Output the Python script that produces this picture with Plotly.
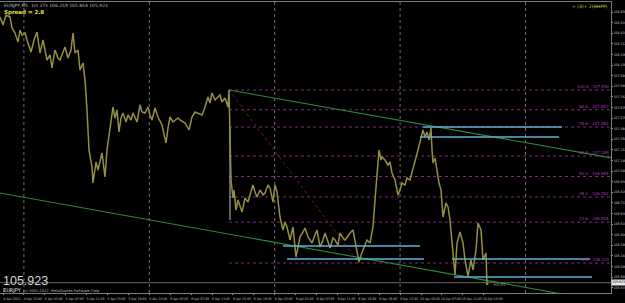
import plotly.graph_objects as go

# ---------------- data ----------------
bars = [0, 3, 6, 10, 12, 15, 18, 20, 22, 25, 27, 31, 34, 37, 40, 43, 45, 47, 50, 52,
        55, 58, 60, 63, 65, 68, 71, 73, 75, 78, 80, 83, 85, 87, 89, 92, 93, 96, 98, 102,
        105, 107, 110, 113, 115, 117, 119, 121, 123, 126, 128, 131, 133, 137, 140, 142, 145, 148, 150, 152,
        155, 158, 162, 164, 166, 168, 170, 173, 175, 178, 180, 185, 189, 192, 195, 197, 202, 205, 208, 210,
        212, 215, 218, 220, 222, 225, 228, 229,
        231, 233, 234, 236, 238, 240, 242, 245, 248, 250, 253, 255, 257, 260, 263, 265, 268, 270, 273, 275,
        277, 280, 283, 285, 287, 290, 293, 296, 298, 300, 303, 305, 308, 312, 315, 317, 320, 323, 325, 328,
        330, 333, 335, 338, 340, 343, 345, 348, 350, 353, 355, 357, 359, 361, 363, 365, 367, 370, 373, 375,
        377, 379, 381, 382, 385, 388, 390, 392, 395, 398, 400, 402, 405, 407, 410, 412, 415, 418, 421, 423,
        425, 427, 429, 431, 432, 433, 435, 437, 439, 441, 442, 443, 446, 448, 450, 451, 453, 455, 457, 460,
        463, 465, 468, 470, 471, 473, 476, 478, 480, 481, 483, 486, 487, 488]
prices = [108.58, 108.50, 108.60, 108.58, 108.47, 108.42, 108.33, 108.45, 108.40, 108.42, 108.35, 108.23, 108.35, 108.43, 108.22, 108.35, 108.25, 108.15, 108.20, 108.07,
          108.25, 108.17, 108.15, 108.23, 108.28, 108.17, 108.25, 108.42, 108.22, 108.25, 108.05, 108.12, 107.95, 107.65, 107.25, 107.08, 106.92, 107.13, 107.05, 107.22,
          106.98, 107.25, 107.48, 107.68, 107.57, 107.65, 107.43, 107.57, 107.62, 107.53, 107.60, 107.55, 107.62, 107.53, 107.70, 107.63, 107.62, 107.68, 107.60, 107.55,
          107.67, 107.58, 107.50, 107.40, 107.32, 107.47, 107.58, 107.53, 107.55, 107.57, 107.55, 107.52, 107.45, 107.58, 107.63, 107.62, 107.60, 107.68, 107.78, 107.72,
          107.82, 107.75, 107.78, 107.80, 107.73, 107.77, 107.68, 107.85,
          106.95, 106.77, 106.85, 106.65, 106.75, 106.70, 106.63, 106.77, 106.73, 106.80, 106.90, 106.83, 106.78, 106.85, 106.80, 106.82, 106.90, 106.87, 106.73, 106.90,
          106.83, 106.58, 106.45, 106.53, 106.48, 106.35, 106.48, 106.18, 106.30, 106.38, 106.43, 106.47, 106.38, 106.32, 106.40, 106.45, 106.28, 106.35, 106.42, 106.33,
          106.27, 106.37, 106.35, 106.30, 106.42, 106.37, 106.35, 106.39, 106.42, 106.45, 106.35, 106.25, 106.13, 106.20, 106.25, 106.30, 106.35, 106.32, 106.48, 106.75,
          107.02, 107.25, 107.15, 107.18, 107.15, 107.10, 107.13, 107.02, 106.95, 106.80, 106.85, 106.92, 106.90, 106.97, 106.95, 107.02, 107.12, 107.25, 107.37, 107.45,
          107.38, 107.43, 107.35, 107.47, 107.25, 107.12, 107.17, 107.05, 106.92, 106.85, 106.75, 106.58, 106.72, 106.68, 106.55, 106.45, 106.22, 106.00, 106.32, 106.43,
          106.32, 106.15, 105.99, 106.10, 106.15, 106.05, 106.25, 106.52, 106.47, 106.45, 106.15, 106.22, 105.90, 105.923]

time_labels = ["4 Apr 2012", "4 Apr 23:45", "5 Apr 03:45", "5 Apr 07:45", "5 Apr 11:45", "5 Apr 15:45",
               "5 Apr 19:45", "5 Apr 23:45", "6 Apr 03:45", "6 Apr 07:45", "6 Apr 11:45", "6 Apr 15:45",
               "6 Apr 19:45", "6 Apr 23:45", "9 Apr 03:45", "9 Apr 07:45", "9 Apr 11:45", "9 Apr 15:45",
               "9 Apr 19:45", "9 Apr 23:45", "10 Apr 03:45", "10 Apr 07:45", "10 Apr 11:45", "10 Apr 15:45"]

current_price = 105.923
fibo_high_bar, fibo_high = 229, 107.85
fibo_low_bar, fibo_low = 359, 106.12
fibo_levels = [0.0, 23.6, 38.2, 50.0, 61.8, 78.6, 88.6, 100.0]

# support / resistance lines: start bar, end bar, price
sr_start = [423, 420, 283, 287, 452, 454]
sr_end = [562, 559, 420, 424, 590, 592]
sr_price = [107.48, 107.38, 106.29, 106.16, 106.16, 105.98]

# channel lines: (bar, price) endpoints
chan_upper_bars = [229, 612]
chan_upper_prices = [107.85, 107.17]
chan_lower_bars = [0, 612]
chan_lower_prices = [106.82, 105.72]

# light vertical marker
marker_bar = 230
marker_prices = [107.48, 106.55]

y_ticks = [round(108.63 - 0.106 * k, 3) for k in range(27)]

# ---------------- figure ----------------
X0, X1 = 0, 611
Y0, Y1 = 105.82, 108.73
label_step = 20.9
label_bars = [3 + label_step * k for k in range(len(time_labels))]
grid_bars = [3 + label_step * k for k in (1, 7, 13, 19, 25)]
NARROW = "Liberation Sans Narrow, DejaVu Sans Condensed, Liberation Sans"

fig = go.Figure()

# vertical dotted grid
for gb in grid_bars:
    fig.add_trace(go.Scatter(x=[gb, gb], y=[Y0, Y1], mode="lines",
                             line=dict(color="#707070", width=1, dash="dot"), hoverinfo="skip"))

# current price line
fig.add_trace(go.Scatter(x=[X0, X1], y=[current_price, current_price], mode="lines",
                         line=dict(color="#666666", width=1), hoverinfo="skip"))

# fibonacci levels
fib_ann = []
for lv in fibo_levels:
    p = fibo_low + (fibo_high - fibo_low) * lv / 100.0
    fig.add_trace(go.Scatter(x=[fibo_high_bar, X1], y=[p, p], mode="lines",
                             line=dict(color="#7e2a80", width=1, dash="dot"), hoverinfo="skip"))
    fib_ann.append(dict(x=X1 - 1, y=p, xref="x", yref="y", text=f"{lv:.1f} - {p:.3f}",
                        showarrow=False, xanchor="right", yanchor="bottom",
                        font=dict(size=4, color="#b238b4", family="DejaVu Sans"), borderpad=0))

# fibo trend line
fig.add_trace(go.Scatter(x=[fibo_high_bar, fibo_low_bar], y=[fibo_high, fibo_low], mode="lines",
                         line=dict(color="#7a1a1a", width=1, dash="dot"), hoverinfo="skip"))

# channel lines
fig.add_trace(go.Scatter(x=chan_upper_bars, y=chan_upper_prices, mode="lines",
                         line=dict(color="#2f8a3a", width=1.1), hoverinfo="skip"))
fig.add_trace(go.Scatter(x=chan_lower_bars, y=chan_lower_prices, mode="lines",
                         line=dict(color="#2f8a3a", width=1.1), hoverinfo="skip"))

# vertical marker
fig.add_trace(go.Scatter(x=[marker_bar, marker_bar], y=marker_prices, mode="lines",
                         line=dict(color="#c0c0c0", width=1), hoverinfo="skip"))

# price
fig.add_trace(go.Scatter(x=bars, y=prices, mode="lines",
                         line=dict(color="#958f42", width=1.5), hoverinfo="skip"))

# support / resistance
for s, e, p in zip(sr_start, sr_end, sr_price):
    fig.add_trace(go.Scatter(x=[s, e], y=[p, p], mode="lines",
                             line=dict(color="#5cb2d6", width=1.5), hoverinfo="skip"))

ann = fib_ann + [
    dict(x=3 / 611, y=1.0, xref="paper", yref="paper", xanchor="left", yanchor="top",
         text="EURJPY,M5  1m 27s 106.259 105.854 105.923", showarrow=False,
         font=dict(size=4.5, color="#bdbdbd", family="DejaVu Sans"), borderpad=0),
    dict(x=3 / 611, y=0.979, xref="paper", yref="paper", xanchor="left", yanchor="top",
         text="<b>Spread = 2.8</b>", showarrow=False,
         font=dict(size=5.5, color="#e0e040", family="DejaVu Sans"), borderpad=0),
    dict(x=609 / 611, y=0.995, xref="paper", yref="paper", xanchor="right", yanchor="top",
         text="+ (3)+ 2(HHPP)", showarrow=False,
         font=dict(size=4.5, color="#d8d840", family="DejaVu Sans"), borderpad=0),
    dict(x=2 / 611, y=0.041, xref="paper", yref="paper", xanchor="left", yanchor="middle",
         text="105.923", showarrow=False,
         font=dict(size=12.5, color="#d4d4d4", family="Liberation Sans"), borderpad=0),
    dict(x=2 / 611, y=0.011, xref="paper", yref="paper", xanchor="left", yanchor="middle",
         text="EURJPY", showarrow=False,
         font=dict(size=5, color="#e8e8e8", family="DejaVu Sans"), borderpad=0),
    dict(x=22 / 611, y=0.008, xref="paper", yref="paper", xanchor="left", yanchor="middle",
         text="(c) 2001-2012, MetaQuotes Software Corp.", showarrow=False,
         font=dict(size=3.6, color="#bcbcbc", family="DejaVu Sans"), borderpad=0),
    dict(x=492, y=0.03, xref="x", yref="paper", xanchor="left", yanchor="middle",
         text="+0.21", showarrow=False,
         font=dict(size=4, color="#a0a0a0", family="DejaVu Sans"), borderpad=0),
    dict(x=1.0, y=current_price, xref="paper", yref="y", xanchor="left", yanchor="middle",
         text="105.923", showarrow=False, bgcolor="#e4e4e4",
         font=dict(size=3.4, color="#000000", family=NARROW), borderpad=0.3),
]

fig.update_layout(
    width=625, height=303, margin=dict(l=0, r=14, t=2, b=10),
    paper_bgcolor="#000000", plot_bgcolor="#000000", showlegend=False,
    annotations=ann,
    xaxis=dict(range=[X0, X1], showgrid=False, zeroline=False, showline=True, mirror=True,
               linecolor="#7c7c7c", linewidth=1, tickmode="array", tickvals=label_bars,
               ticktext=time_labels, ticks="outside", ticklen=1, tickcolor="#9a9a9a",
               tickangle=0,
               tickfont=dict(size=3.4, color="#c4c4c4", family=NARROW),
               ticklabelshift=9, ticklabelstandoff=1, automargin=False),
    yaxis=dict(range=[Y0, Y1], side="right", showgrid=False, zeroline=False, showline=True,
               mirror=True, linecolor="#7c7c7c", linewidth=1, tickmode="array",
               tickvals=y_ticks, ticktext=[f"{v:.3f}" for v in y_ticks], ticks="outside",
               ticklen=1, tickcolor="#9a9a9a", ticklabelstandoff=0,
               tickfont=dict(size=3.4, color="#c4c4c4", family=NARROW), automargin=False),
)

fig.write_html("out.html")
